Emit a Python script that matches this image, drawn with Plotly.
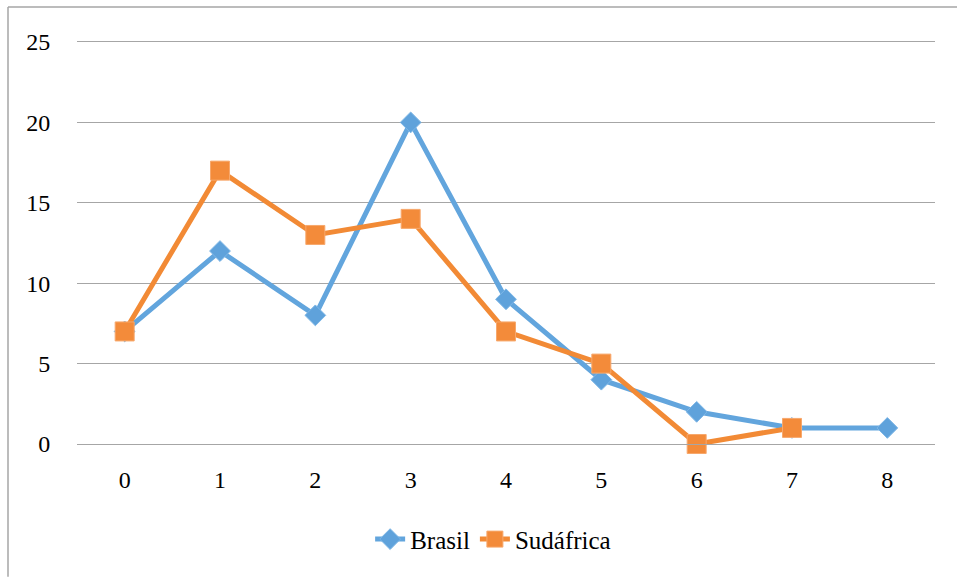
import plotly.graph_objects as go

# Categories along the x axis
categorias = ["0", "1", "2", "3", "4", "5", "6", "7", "8"]

# Series values
brasil = [7, 12, 8, 20, 9, 4, 2, 1, 1]
sudafrica_cats = ["0", "1", "2", "3", "4", "5", "6", "7"]
sudafrica = [7, 17, 13, 14, 7, 5, 0, 1]

# Y tick labels
y_ticks = [0, 5, 10, 15, 20, 25]

W, H = 957, 577
L, R, T, B = 77, 22, 42, 133

SERIF = "Liberation Serif"

fig = go.Figure()
fig.add_trace(go.Scatter(
    x=categorias, y=brasil, name="Brasil", mode="lines+markers",
    line=dict(color="#62A5DD", width=5),
    marker=dict(symbol="diamond", size=16, color="#5FA2DB",
                line=dict(color="#7DB6E6", width=1)),
    cliponaxis=False,
))
fig.add_trace(go.Scatter(
    x=sudafrica_cats, y=sudafrica, name="Sudáfrica", mode="lines+markers",
    line=dict(color="#F28A35", width=5),
    marker=dict(symbol="square", size=19, color="#F38B3A",
                line=dict(color="#F7A86C", width=1)),
    cliponaxis=False,
))

fig.update_layout(
    width=W, height=H,
    font=dict(family=SERIF, size=24, color="black"),
    xaxis=dict(tickfont=dict(family=SERIF, size=24, color="black")),
    yaxis=dict(tickfont=dict(family=SERIF, size=24, color="black")),
    legend=dict(font=dict(family=SERIF, size=25, color="black")),
)

# Outer chart frame (left and top edges)
fx = (8 - L) / (W - L - R)
fy = ((H - B) - 7) / (H - B - T)
frame = dict(color="#A6A6A6", width=1.5)
fig.add_shape(type="line", xref="paper", yref="paper",
              x0=fx, x1=fx, y0=-0.33, y1=fy, line=frame, layer="below")
fig.add_shape(type="line", xref="paper", yref="paper",
              x0=fx, x1=1.03, y0=fy, y1=fy, line=frame, layer="below")

fig.update_layout(
    margin=dict(l=L, r=R, t=T, b=B),
    paper_bgcolor="white", plot_bgcolor="white",
    showlegend=True,
    legend=dict(orientation="h", x=0.485, xanchor="center", y=-0.18, yanchor="top",
                traceorder="normal"),
    xaxis=dict(
        type="category", categoryorder="array", categoryarray=categorias,
        range=[-0.5, 8.5], showgrid=False, zeroline=False,
        showline=True, mirror=True, linecolor="#A6A6A6", linewidth=1,
        ticks="outside", ticklen=14, tickcolor="rgba(0,0,0,0)",
    ),
    yaxis=dict(
        range=[0, 25], tickvals=y_ticks, ticktext=[str(v) for v in y_ticks],
        showgrid=True, gridcolor="#A6A6A6", gridwidth=1,
        zeroline=False, showline=False,
        ticks="outside", ticklen=21, tickcolor="rgba(0,0,0,0)",
    ),
)

fig.write_html("out.html")
